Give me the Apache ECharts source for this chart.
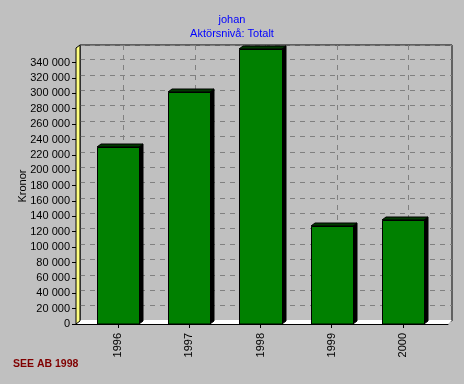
<!DOCTYPE html>
<html>
<head>
<meta charset="utf-8">
<script src="https://cdn.jsdelivr.net/npm/echarts@6/dist/echarts.min.js"></script>
<style>
html,body{margin:0;padding:0;background:#c0c0c0;}
#chart{width:464px;height:384px;}
</style>
</head>
<body>
<div id="chart"></div>
<script>
const categories = ['1996', '1997', '1998', '1999', '2000'];
const values = [230500, 302000, 358000, 128000, 135000];
const yMin = 0;
const yMax = 359000;
const yStep = 20000;
const titleText = 'johan';
const subtitleText = 'Aktörsnivå: Totalt';
const yName = 'Kronor';
const footer = 'SEE AB 1998';

const font = 'Arial, "Liberation Sans", sans-serif';
const chart = echarts.init(document.getElementById('chart'), null, {renderer: 'canvas'});

function fmt(v) {
  if (v % yStep !== 0) return '';
  return String(v).replace(/\B(?=(\d{3})+(?!\d))/g, ' ');
}

const D = 4, H = 3; // 3D depth offsets

const option = {
  backgroundColor: '#c0c0c0',
  animation: false,
  title: [
    {text: titleText, left: 'center', top: 9, textStyle: {color: '#0000ff', fontSize: 11, fontWeight: 'normal', fontFamily: font}},
    {text: subtitleText, left: 'center', top: 23, textStyle: {color: '#0000ff', fontSize: 11, fontWeight: 'normal', fontFamily: font}},
    {text: footer, left: 13, top: 359, padding: 0, textStyle: {color: '#800000', fontSize: 10.5, fontWeight: 'bold', fontFamily: font}}
  ],
  grid: [
    {left: 80, right: 12, top: 45, bottom: 63, show: true, borderColor: '#000', borderWidth: 1, backgroundColor: 'transparent'},
    {left: 123.7, right: 55.3, top: 45, bottom: 63},
    {left: 76, right: 16, top: 48, bottom: 60},
    {left: 82.4, right: 25.4, top: 48, bottom: 60}
  ],
  xAxis: [
    {gridIndex: 0, type: 'value', min: 0, max: 1, show: false},
    {gridIndex: 1, type: 'category', data: ['', '', '', ''], axisLine: {show: false}, axisTick: {show: false}, axisLabel: {show: false},
     splitLine: {show: true, interval: 0, lineStyle: {color: '#808080', type: [5, 5], width: 1}}},
    {gridIndex: 2, type: 'value', min: 0, max: 1, axisLine: {show: true, lineStyle: {color: '#000', width: 1}}, axisTick: {show: false}, axisLabel: {show: false}, splitLine: {show: false}},
    {gridIndex: 3, type: 'category', data: categories, axisLine: {show: false},
     axisTick: {show: true, alignWithLabel: true, length: 4, lineStyle: {color: '#000'}},
     axisLabel: {rotate: 90, margin: 9, color: '#000', fontSize: 11, fontFamily: font}}
  ],
  yAxis: [
    {gridIndex: 0, type: 'value', min: yMin, max: yMax, interval: yStep, axisLine: {show: false}, axisTick: {show: false}, axisLabel: {show: false},
     splitLine: {show: true, lineStyle: {color: '#808080', type: [5, 5], width: 1}}},
    {gridIndex: 1, type: 'value', min: yMin, max: yMax, show: false},
    {gridIndex: 2, type: 'value', min: yMin, max: yMax, interval: yStep,
     axisLine: {show: true, lineStyle: {color: '#000', width: 1}},
     axisTick: {show: true, length: 4, lineStyle: {color: '#000'}},
     axisLabel: {margin: 6, color: '#000', fontSize: 11, fontFamily: font, formatter: fmt, showMaxLabel: false},
     splitLine: {show: false},
     name: yName, nameLocation: 'middle', nameGap: 48, nameRotate: 90, nameMoveOverlap: false,
     nameTextStyle: {color: '#000', fontSize: 11, fontFamily: font}},
    {gridIndex: 3, type: 'value', min: yMin, max: yMax, show: false}
  ],
  graphic: [
    {type: 'polygon', z: 1, shape: {points: [[76, 324], [80, 320], [452, 320], [448, 324]]}, style: {fill: '#ffffff'}},
    {type: 'polygon', z: 1, shape: {points: [[76, 48], [80, 45], [80, 321], [76, 324]]}, style: {fill: '#ffff80', stroke: '#000', lineWidth: 1}}
  ],
  series: [{
    type: 'custom',
    xAxisIndex: 3,
    yAxisIndex: 3,
    z: 5,
    data: values.map((v, i) => [i, v]),
    renderItem: function (params, api) {
      const top = api.coord([api.value(0), api.value(1)]);
      const base = api.coord([api.value(0), 0]);
      const w = api.size([1, 0])[0] * 0.59;
      const x0 = Math.round(top[0] - w / 2), x1 = Math.round(top[0] + w / 2);
      const yT = Math.round(top[1]), yB = Math.round(base[1]);
      return {
        type: 'group',
        children: [
          {type: 'polygon', shape: {points: [[x1, yT], [x1 + D, yT - H], [x1 + D, yB - H], [x1, yB]]}, style: {fill: '#000', stroke: '#000', lineWidth: 1}},
          {type: 'polygon', shape: {points: [[x0, yT], [x0 + D, yT - H], [x1 + D, yT - H], [x1, yT]]}, style: {fill: '#003a00', stroke: '#000', lineWidth: 1}},
          {type: 'rect', shape: {x: x0 + 0.5, y: yT + 0.5, width: x1 - x0, height: yB - yT - 0.5}, style: {fill: '#008000', stroke: '#000', lineWidth: 1}}
        ]
      };
    }
  }]
};
chart.setOption(option);
</script>
</body>
</html>
